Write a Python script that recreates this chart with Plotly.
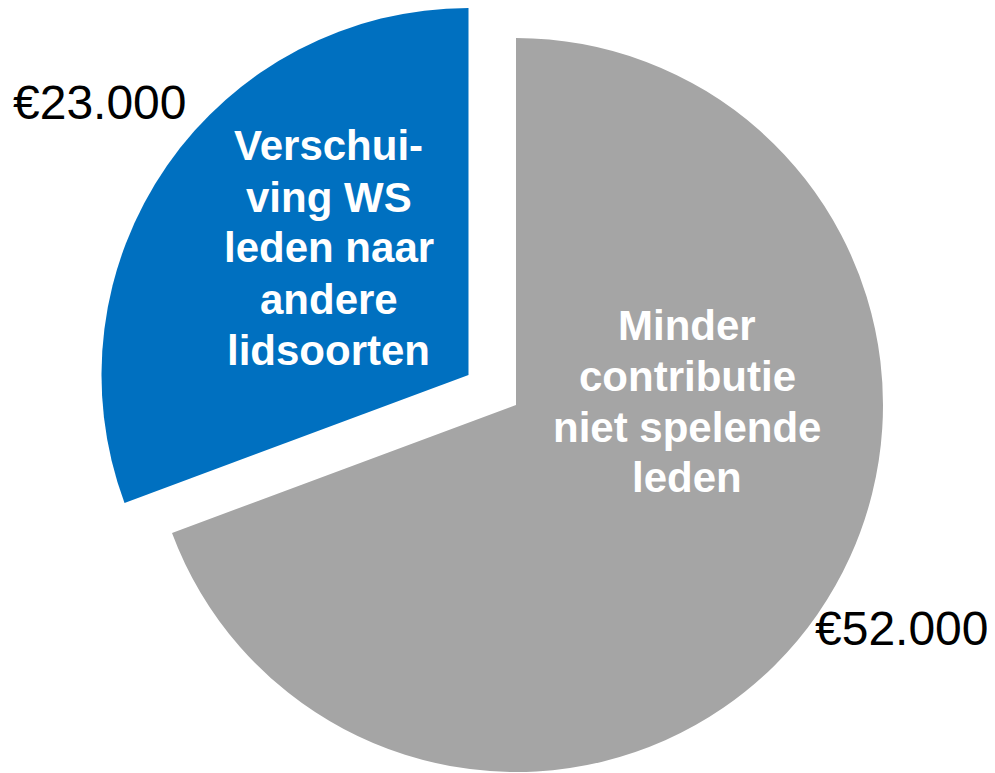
import plotly.graph_objects as go

# Data
categories = ["Minder contributie niet spelende leden",
              "Verschuiving WS leden naar andere lidsoorten"]
values = [52000, 23000]
inside_lines = [
    ["Minder", "contributie", "niet spelende", "leden"],
    ["Verschui-", "ving WS", "leden naar", "andere", "lidsoorten"],
]
colors = ["#A5A5A5", "#0070C0"]

W, H = 995, 773
OX, OY = 8, 8          # page body margin offset
TRANSPARENT = "rgba(0,0,0,0)"
R = 367

def fmt(v):
    return "€" + f"{v:,}".replace(",", ".")

def domain_for(cx, cy):
    cx, cy = cx - OX, cy - OY
    fx, fy = cx / W, 1 - cy / H
    hw, hh = 400 / W, R / H
    clamp = lambda v: min(1.0, max(0.0, round(v, 5)))
    return dict(x=[clamp(fx - hw), clamp(fx + hw)],
                y=[clamp(fy - hh), clamp(fy + hh)])

dom_gray = domain_for(516, 405)
dom_blue = domain_for(468.5, 375)

fig = go.Figure()
fig.add_trace(go.Pie(
    labels=categories, values=values, sort=False, direction="clockwise",
    rotation=0, textinfo="none", hoverinfo="label+value",
    marker=dict(colors=[colors[0], TRANSPARENT], line=dict(width=0)),
    domain=dom_gray, showlegend=False,
))
fig.add_trace(go.Pie(
    labels=categories, values=values, sort=False, direction="clockwise",
    rotation=0, textinfo="none", hoverinfo="label+value",
    marker=dict(colors=[TRANSPARENT, colors[1]], line=dict(width=0)),
    domain=dom_blue, showlegend=False,
))

FONT = "Liberation Sans, Arial, sans-serif"
annotations = []

def add_text(text, px, py, size, bold=False, color="black"):
    px, py = px - OX, py - OY - 2
    annotations.append(dict(
        text=f"<b>{text}</b>" if bold else text,
        x=px / W, y=1 - py / H, xref="paper", yref="paper",
        xanchor="center", yanchor="middle", showarrow=False,
        font=dict(family=FONT, size=size, color=color),
    ))

# Inside labels
label_pos = [(687, 328, 50.5), (328.5, 148, 51)]
for lines, (cx, y0, dy) in zip(inside_lines, label_pos):
    for i, line in enumerate(lines):
        add_text(line, cx, y0 + i * dy, 42, bold=True, color="white")

# Outside value labels
value_pos = [(902, 630), (99.5, 105)]
for v, (cx, cy) in zip(values, value_pos):
    add_text(fmt(v), cx, cy, 48)

fig.update_layout(
    width=W, height=H,
    margin=dict(l=0, r=0, t=0, b=0),
    paper_bgcolor="white", plot_bgcolor="white",
    annotations=annotations,
)

fig.write_html("out.html")
